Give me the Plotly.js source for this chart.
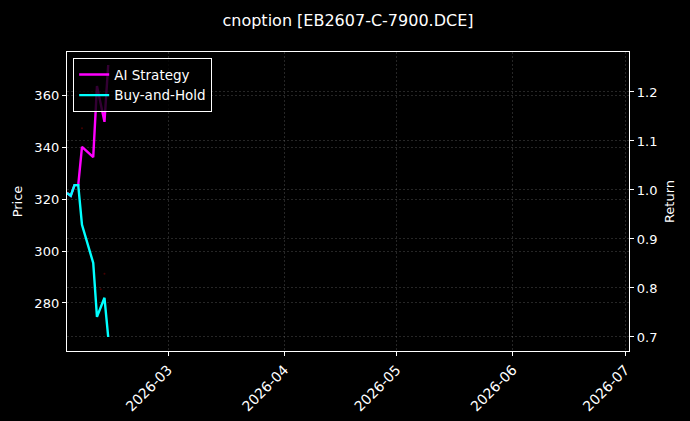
<!DOCTYPE html>
<html>
<head>
<meta charset="utf-8">
<script src="https://cdn.plot.ly/plotly-3.0.1.min.js"></script>
<style>
  html, body { margin: 0; padding: 0; background: #000; }
  #chart { width: 690px; height: 421px; }
</style>
</head>
<body>
<div id="chart"></div>
<script>
/* cnoption EB2607-C-7900.DCE: strategy vs buy-and-hold */
var DATES = ["2026-02-02", "2026-02-03", "2026-02-04", "2026-02-05", "2026-02-06",
             "2026-02-09", "2026-02-10", "2026-02-12", "2026-02-13"];
var AI_RET = [0.994, 0.988, 1.010, 1.010, 1.088, 1.067, 1.212, 1.139, 1.255];
var BH_RET = [0.994, 0.988, 1.010, 1.010, 0.929, 0.851, 0.741, 0.780, 0.700];

// faint price marks on the left axis
var PRICE_DATES = ["2026-02-06", "2026-02-11", "2026-02-12"];
var PRICE_VALS = [347.3, 285.3, 291.3];

var X_TICKS = ["2026-03-01", "2026-04-01", "2026-05-01", "2026-06-01", "2026-07-01"];
var X_LABELS = ["2026-03", "2026-04", "2026-05", "2026-06", "2026-07"];
var X_RANGE = ["2026-02-02", "2026-07-02"];
var PRICE_TICKS = [280, 300, 320, 340, 360];
var PRICE_RANGE = [261.5, 376.7];
var RET_TICKS = [0.7, 0.8, 0.9, 1.0, 1.1, 1.2];
var RET_LABELS = ["0.7", "0.8", "0.9", "1.0", "1.1", "1.2"];
var RET_RANGE = [0.6714, 1.2816];

var FONT = "DejaVu Sans, sans-serif";
var GRID = "rgba(140,140,140,0.45)";

var traces = [
  {
    type: "scatter", mode: "markers", x: PRICE_DATES, y: PRICE_VALS, yaxis: "y",
    marker: { color: "rgba(150,0,0,0.45)", size: 2 },
    showlegend: false, hoverinfo: "skip"
  },
  {
    type: "scatter", mode: "lines", name: "AI Strategy", x: DATES, y: AI_RET, yaxis: "y2",
    line: { color: "#ff00ff", width: 2.4 }
  },
  {
    type: "scatter", mode: "lines", name: "Buy-and-Hold", x: DATES, y: BH_RET, yaxis: "y2",
    line: { color: "#00ffff", width: 2.4 }
  }
];

var layout = {
  width: 690, height: 421,
  paper_bgcolor: "#000", plot_bgcolor: "#000",
  font: { family: FONT, color: "#fff", size: 13 },
  margin: { l: 67, r: 61, t: 52, b: 70, pad: 0 },
  title: { text: "cnoption [EB2607-C-7900.DCE]", x: 0.5, xref: "paper", y: 0.966, yref: "container",
    font: { size: 16, color: "#fff", family: FONT } },
  showlegend: true,
  legend: {
    x: 0.011, y: 0.979, xanchor: "left", yanchor: "top",
    bgcolor: "rgba(0,0,0,0.8)", bordercolor: "#fff", borderwidth: 1,
    font: { size: 13.5, color: "#fff", family: FONT },
    tracegroupgap: 0
  },
  xaxis: {
    type: "date", range: X_RANGE, tickvals: X_TICKS, ticktext: X_LABELS,
    tickangle: -45, ticks: "outside", ticklen: 4, tickcolor: "#fff",
    showline: true, linecolor: "#fff", linewidth: 1.2, mirror: true,
    showgrid: true, gridcolor: GRID, griddash: "2px,2px", gridwidth: 0.6,
    zeroline: false, tickfont: { size: 14, color: "#fff" }
  },
  yaxis: {
    range: PRICE_RANGE, tickvals: PRICE_TICKS,
    title: { text: "Price", font: { size: 13, color: "#fff" }, standoff: 8 },
    ticks: "outside", ticklen: 4, tickcolor: "#fff",
    showline: true, linecolor: "#fff", linewidth: 1.2,
    showgrid: true, gridcolor: GRID, griddash: "2px,2px", gridwidth: 0.6,
    zeroline: false, tickfont: { size: 13, color: "#fff" }
  },
  yaxis2: {
    overlaying: "y", side: "right", range: RET_RANGE,
    tickvals: RET_TICKS, ticktext: RET_LABELS,
    title: { text: "Return", font: { size: 13, color: "#fff" }, standoff: 8 },
    ticks: "outside", ticklen: 4, tickcolor: "#fff",
    showline: true, linecolor: "#fff", linewidth: 1.2,
    showgrid: true, gridcolor: GRID, griddash: "2px,2px", gridwidth: 0.6,
    zeroline: false, tickfont: { size: 13, color: "#fff" }
  }
};

Plotly.newPlot("chart", traces, layout, { displayModeBar: false, staticPlot: true });
</script>
</body>
</html>
